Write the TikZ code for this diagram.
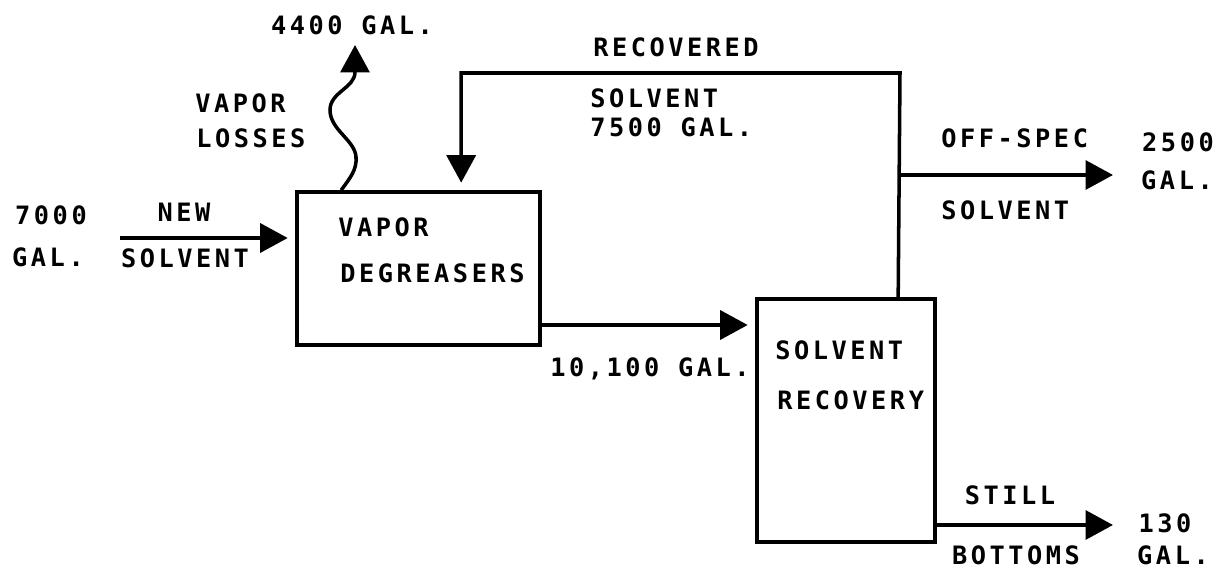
\documentclass[tikz,border=0pt]{standalone}
\usepackage{fontspec}
\usepackage{tikz}
\usetikzlibrary{arrows.meta,positioning,calc}
\newfontfamily\plotfont[LetterSpace=14]{DejaVu Sans Mono}
\tikzset{
  unitbox/.style={draw=black, line width=2.1pt, inner sep=0pt},
  tag/.style={font=\plotfont\bfseries\fontsize{14.4}{17}\selectfont, inner sep=0pt, text depth=0pt},
  flow/.style={-{Triangle[length=5.5mm, width=5.8mm]}, line width=2pt, draw=black},
  intobox/.style={flow, shorten >=1.5mm}
}

\begin{document}
\begin{tikzpicture}[x=0.02cm, y=-0.02cm]
  \useasboundingbox (0,0) rectangle (1225,571);

  % process units
  \node[unitbox, minimum width=4.86cm, minimum height=3.06cm] (degr) at (418.5,268.5) {};
  \node[unitbox, minimum width=3.56cm, minimum height=4.86cm] (rec) at (846,420.5) {};
  \node[tag, anchor=west] (degrA) at (338,227) {VAPOR};
  \node[tag, anchor=west] (degrB) at (340,273) {DEGREASERS};
  \node[tag, anchor=west] (recA) at (775,350) {SOLVENT};
  \node[tag, anchor=west] (recB) at (777,400) {RECOVERY};

  % stream labels
  \node[tag] (newamt) at (51,215) {7000};
  \node[tag] (newamtB) at (48,257) {GAL.};
  \node[tag] (newA) at (184,212) {NEW};
  \node[tag] (newB) at (185,258) {SOLVENT};
  \node[tag] (vapamt) at (352,25) {4400 GAL.};
  \node[tag, anchor=west] (vapA) at (195,103) {VAPOR};
  \node[tag, anchor=west] (vapB) at (196,138) {LOSSES};
  \node[tag] (recyA) at (676,47) {RECOVERED};
  \node[tag, anchor=west] (recyB) at (590,98) {SOLVENT};
  \node[tag, anchor=west] (recyC) at (590,127) {7500 GAL.};
  \node[tag, anchor=west] (offA) at (941,138) {OFF-SPEC};
  \node[tag, anchor=west] (offB) at (941,210) {SOLVENT};
  \node[tag] (offamt) at (1178,142) {2500};
  \node[tag] (offamtB) at (1177,180) {GAL.};
  \node[tag] (midamt) at (650,367) {10,100 GAL.};
  \node[tag] (botA) at (1010,495) {STILL};
  \node[tag] (botB) at (1016,555) {BOTTOMS};
  \node[tag] (botamt) at (1165,523) {130};
  \node[tag] (botamtB) at (1173,555) {GAL.};

  % streams
  \coordinate (newin) at (120,238);
  \coordinate (vapout) at ($(degr.north west)+(46,0)$);
  \coordinate (vaptip) at (355,45);
  \coordinate (recout) at ($(rec.north west)+(143,0)$);
  \coordinate (recin) at ($(degr.north west)+(166,0)$);
  \coordinate (rectop) at (900,73);
  \coordinate (split) at (900,175);
  \coordinate (offend) at (1113,175);
  \coordinate (midout) at ($(degr.east)+(0,56.5)$);
  \coordinate (botout) at ($(rec.east)+(0,104.5)$);
  \coordinate (botend) at (1113,525);

  \draw[intobox] (newin) -- (newin -| degr.west);
  \draw[flow] (vapout) .. controls (350,178) and (357,170) .. (356,157)
    .. controls (355,140) and (330,130) .. (330,110)
    .. controls (330,92) and (355,88) .. (355,72) -- (vaptip);
  \draw[intobox] (recout) -- (rectop) -| (recin);
  \draw[flow] (split) -- (offend);
  \draw[intobox] (midout) -- (midout -| rec.west);
  \draw[flow] (botout) -- (botend);
\end{tikzpicture}
\end{document}
